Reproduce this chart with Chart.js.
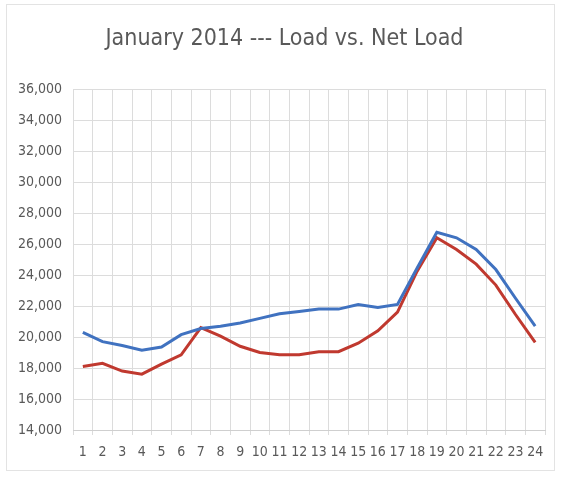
<!DOCTYPE html>
<html>
<head>
<meta charset="utf-8">
<script src="https://cdn.jsdelivr.net/npm/chart.js@4.4.1/dist/chart.umd.min.js"></script>
<style>
  html, body { margin: 0; padding: 0; background: #fff; }
  #wrap { position: relative; width: 561px; height: 477px; }
  #frame { position: absolute; left: 6px; top: 4px; width: 547px; height: 465px; border: 1px solid #e3e3e3; }
  canvas { position: absolute; left: 0; top: 0; }
</style>
</head>
<body>
<div id="wrap">
  <div id="frame"></div>
  <canvas id="loadChart" width="561" height="477"></canvas>
</div>
<script>
// January 2014 hourly load vs net load (MW)
const hours = ['1','2','3','4','5','6','7','8','9','10','11','12','13','14','15','16','17','18','19','20','21','22','23','24'];
const load = [20300, 19700, 19450, 19150, 19350, 20150, 20550, 20700, 20900, 21200, 21500, 21650, 21800, 21800, 22100, 21900, 22100, 24450, 26750, 26400, 25650, 24350, 22500, 20700];
const netLoad = [18100, 18300, 17800, 17600, 18250, 18850, 20600, 20050, 19400, 19000, 18850, 18850, 19050, 19050, 19600, 20400, 21600, 24250, 26400, 25650, 24700, 23350, 21450, 19650];
const yTicks = { min: 14000, max: 36000, step: 2000 };

const gridColor = '#dcdcdc';
const textColor = '#595959';
const fontFamily = "'DejaVu Sans Condensed', 'Liberation Sans', sans-serif";
const tickFont = { family: fontFamily, size: 14 };

// nudge the title a little right, like the original
const titleShift = {
    id: 'titleShift',
    afterLayout(chart) {
        if (chart.titleBlock) {
            chart.titleBlock.left += 8;
            chart.titleBlock.right += 8;
        }
    }
};

new Chart(document.getElementById('loadChart').getContext('2d'), {
    type: 'line',
    data: {
        labels: hours,
        datasets: [
            {
                label: 'Load',
                data: load,
                borderColor: '#4072c0',
                borderWidth: 3,
                pointRadius: 0,
                tension: 0,
                fill: false
            },
            {
                label: 'Net Load',
                data: netLoad,
                borderColor: '#c0392f',
                borderWidth: 3,
                pointRadius: 0,
                tension: 0,
                fill: false
            }
        ]
    },
    options: {
        responsive: false,
        animation: false,
        layout: { padding: { left: 8, right: 16, top: 0, bottom: 15 } },
        plugins: {
            legend: { display: false },
            tooltip: { enabled: false },
            title: {
                display: true,
                text: 'January 2014 --- Load vs. Net Load',
                color: textColor,
                font: { family: fontFamily, size: 23, weight: 'normal' },
                padding: { top: 25, bottom: 36.4 }
            }
        },
        scales: {
            x: {
                offset: true,
                grid: { offset: true, color: gridColor, drawTicks: true, tickLength: 5, tickColor: gridColor },
                border: { color: '#cfcfcf' },
                ticks: { color: textColor, font: tickFont, maxRotation: 0, autoSkip: false, padding: 9 },
                afterFit: s => { s.height = 32; }
            },
            y: {
                min: yTicks.min,
                max: yTicks.max,
                grid: { color: gridColor, drawTicks: false },
                border: { display: false },
                ticks: {
                    stepSize: yTicks.step,
                    color: textColor,
                    font: tickFont,
                    padding: 11,
                    callback: v => v.toLocaleString('en-US')
                },
                afterFit: s => { s.width = 65; }
            }
        }
    },
    plugins: [titleShift]
});
</script>
</body>
</html>
